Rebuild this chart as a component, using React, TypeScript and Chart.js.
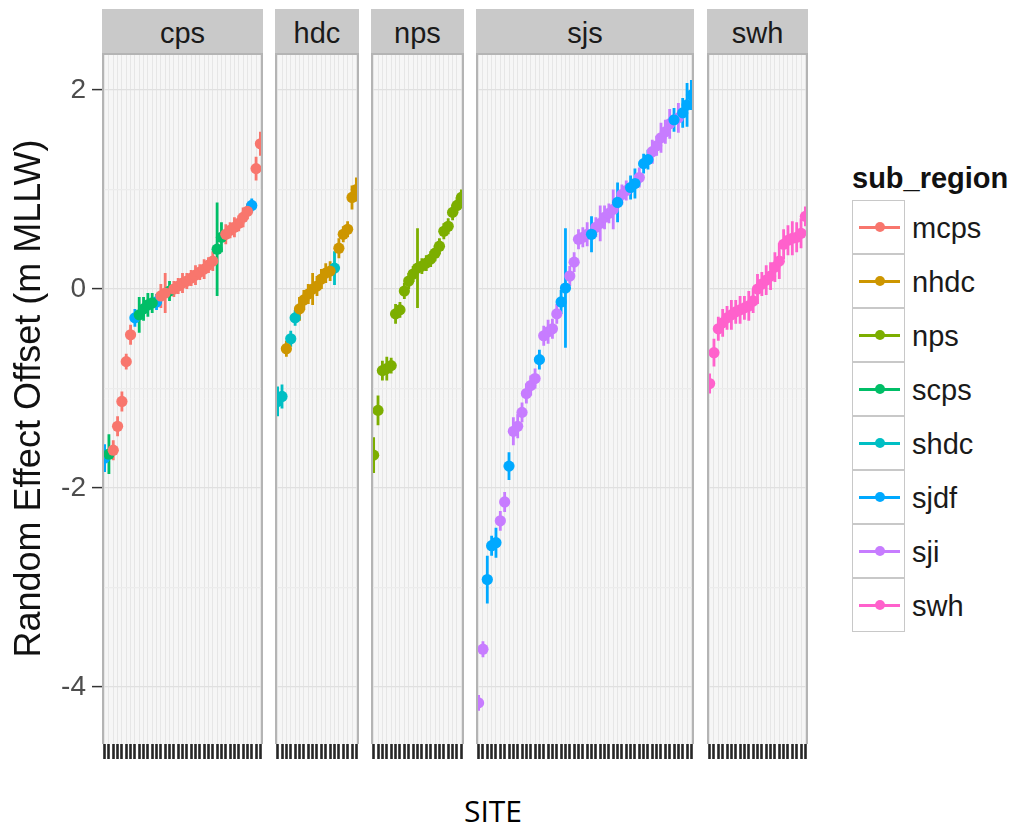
import React, { useEffect, useRef } from 'react';
import { Chart, registerables } from 'chart.js';
Chart.register(...registerables);

// ---------- data ----------
const subRegions = ['mcps', 'nhdc', 'nps', 'scps', 'shdc', 'sjdf', 'sji', 'swh'];
const regionColors = ['#F8766D', '#CD9600', '#7CAE00', '#00BE67', '#00BFC4', '#00A9FF', '#C77CFF', '#FF61CC'];
const panelNames = ['cps', 'hdc', 'nps', 'sjs', 'swh'];

const cpsValues = [-1.70, -1.66, -1.62, -1.38, -1.13, -0.73, -0.46, -0.29, -0.26, -0.20, -0.16, -0.14, -0.13, -0.07, -0.04, -0.02, 0.00, 0.03, 0.06, 0.08, 0.11, 0.14, 0.17, 0.20, 0.24, 0.28, 0.40, 0.52, 0.55, 0.59, 0.62, 0.66, 0.72, 0.78, 0.84, 1.21, 1.46];
const cpsErrors = [0.14, 0.2, 0.10, 0.10, 0.10, 0.08, 0.10, 0.09, 0.18, 0.12, 0.12, 0.10, 0.08, 0.12, 0.20, 0.10, 0.08, 0.08, 0.10, 0.08, 0.08, 0.10, 0.08, 0.10, 0.08, 0.10, 0.47, 0.15, 0.10, 0.08, 0.10, 0.08, 0.10, 0.08, 0.07, 0.12, 0.12];
const cpsRegions = ['sjdf', 'scps', 'mcps', 'mcps', 'mcps', 'mcps', 'mcps', 'sjdf', 'scps', 'scps', 'scps', 'scps', 'sjdf', 'mcps', 'mcps', 'scps', 'mcps', 'mcps', 'mcps', 'mcps', 'mcps', 'mcps', 'mcps', 'mcps', 'mcps', 'mcps', 'scps', 'scps', 'mcps', 'mcps', 'mcps', 'mcps', 'mcps', 'mcps', 'sjdf', 'mcps', 'mcps'];

const hdcValues = [-1.13, -1.08, -0.60, -0.50, -0.29, -0.20, -0.11, -0.05, 0.00, 0.03, 0.10, 0.16, 0.18, 0.21, 0.41, 0.55, 0.60, 0.92, 1.00];
const hdcErrors = [0.15, 0.12, 0.08, 0.08, 0.08, 0.12, 0.10, 0.10, 0.16, 0.10, 0.10, 0.10, 0.10, 0.17, 0.10, 0.08, 0.08, 0.12, 0.12];
const hdcRegions = ['shdc', 'shdc', 'nhdc', 'shdc', 'shdc', 'nhdc', 'nhdc', 'nhdc', 'nhdc', 'nhdc', 'nhdc', 'nhdc', 'nhdc', 'shdc', 'nhdc', 'nhdc', 'nhdc', 'nhdc', 'nhdc'];

const npsValues = [-1.67, -1.22, -0.82, -0.80, -0.77, -0.25, -0.21, -0.02, 0.08, 0.15, 0.21, 0.23, 0.26, 0.30, 0.36, 0.43, 0.58, 0.63, 0.77, 0.84, 0.92];
const npsErrors = [0.18, 0.15, 0.10, 0.12, 0.08, 0.10, 0.08, 0.08, 0.08, 0.08, 0.40, 0.08, 0.08, 0.08, 0.08, 0.08, 0.08, 0.08, 0.08, 0.08, 0.08];
const npsRegions = ['nps', 'nps', 'nps', 'nps', 'nps', 'nps', 'nps', 'nps', 'nps', 'nps', 'nps', 'nps', 'nps', 'nps', 'nps', 'nps', 'nps', 'nps', 'nps', 'nps', 'nps'];

const sjsValues = [-4.16, -3.62, -2.92, -2.58, -2.55, -2.33, -2.14, -1.78, -1.43, -1.38, -1.24, -1.05, -0.97, -0.90, -0.71, -0.47, -0.43, -0.40, -0.25, -0.13, 0.01, 0.13, 0.27, 0.50, 0.52, 0.55, 0.55, 0.62, 0.66, 0.72, 0.76, 0.80, 0.87, 0.95, 0.99, 1.02, 1.06, 1.12, 1.26, 1.30, 1.38, 1.44, 1.52, 1.58, 1.66, 1.70, 1.72, 1.77, 1.85, 1.95];
const sjsErrors = [0.08, 0.08, 0.24, 0.10, 0.15, 0.10, 0.10, 0.14, 0.14, 0.12, 0.10, 0.10, 0.10, 0.10, 0.10, 0.10, 0.12, 0.10, 0.10, 0.12, 0.60, 0.10, 0.10, 0.10, 0.10, 0.12, 0.18, 0.10, 0.18, 0.12, 0.10, 0.20, 0.20, 0.10, 0.10, 0.12, 0.15, 0.10, 0.10, 0.10, 0.12, 0.10, 0.15, 0.12, 0.15, 0.12, 0.15, 0.15, 0.22, 0.15];
const sjsRegions = ['sji', 'sji', 'sjdf', 'sjdf', 'sjdf', 'sji', 'sji', 'sjdf', 'sji', 'sji', 'sji', 'sji', 'sji', 'sji', 'sjdf', 'sji', 'sji', 'sji', 'sji', 'sjdf', 'sjdf', 'sji', 'sji', 'sji', 'sji', 'sji', 'sjdf', 'sji', 'sji', 'sji', 'sji', 'sji', 'sjdf', 'sji', 'sji', 'sjdf', 'sjdf', 'sji', 'sjdf', 'sjdf', 'sji', 'sji', 'sji', 'sji', 'sji', 'sjdf', 'sji', 'sjdf', 'sjdf', 'sjdf'];

const swhValues = [-0.95, -0.64, -0.40, -0.34, -0.29, -0.26, -0.23, -0.21, -0.19, -0.17, -0.12, 0.00, 0.05, 0.09, 0.13, 0.22, 0.28, 0.45, 0.49, 0.51, 0.52, 0.56, 0.73];
const swhErrors = [0.10, 0.14, 0.12, 0.14, 0.12, 0.15, 0.12, 0.14, 0.12, 0.15, 0.12, 0.15, 0.12, 0.15, 0.14, 0.15, 0.18, 0.15, 0.15, 0.17, 0.15, 0.15, 0.10];
const swhRegions = ['swh', 'swh', 'swh', 'swh', 'swh', 'swh', 'swh', 'swh', 'swh', 'swh', 'swh', 'swh', 'swh', 'swh', 'swh', 'swh', 'swh', 'swh', 'swh', 'swh', 'swh', 'swh', 'swh'];

const yTickValues = [-4, -3, -2, -1, 0, 1, 2];
const yMin = -4.573;
const yMax = 2.372;

const panelData = [
  { values: cpsValues, errors: cpsErrors, regions: cpsRegions },
  { values: hdcValues, errors: hdcErrors, regions: hdcRegions },
  { values: npsValues, errors: npsErrors, regions: npsRegions },
  { values: sjsValues, errors: sjsErrors, regions: sjsRegions },
  { values: swhValues, errors: swhErrors, regions: swhRegions },
];

// ---------- layout ----------
const FONT = '"Liberation Sans", Arial, Helvetica, sans-serif';
const panelBox = [
  { left: 102, right: 263 },
  { left: 275, right: 359 },
  { left: 371, right: 464 },
  { left: 476, right: 694 },
  { left: 707, right: 808 },
];
const PLOT_TOP = 53;
const PLOT_BOTTOM = 744;
const PAD_TOP = 30;
const PAD_BOTTOM = 10;
const X_AXIS_H = 16;
const PAD_X = 6;
const Y_AXIS_W = 102;

const panelPlugin = {
  id: 'panelBg',
  beforeDraw(chart: any) {
    const { ctx, chartArea: a } = chart;
    ctx.save();
    ctx.fillStyle = '#f6f6f6';
    ctx.fillRect(a.left, a.top, a.right - a.left, a.bottom - a.top);
    ctx.restore();
  },
  afterDatasetsDraw(chart: any) {
    const { ctx, chartArea: a } = chart;
    ctx.save();
    ctx.strokeStyle = '#b4b4b4';
    ctx.lineWidth = 2;
    ctx.beginPath();
    ctx.moveTo(a.left + 1, a.bottom);
    ctx.lineTo(a.left + 1, a.top + 1);
    ctx.lineTo(a.right - 1, a.top + 1);
    ctx.lineTo(a.right - 1, a.bottom);
    ctx.stroke();
    ctx.restore();
  },
};

function buildDatasets(values: number[], errors: number[], regions: string[]) {
  const ds: any[] = [];
  subRegions.forEach((r, ri) => {
    const idx = values.map((_, i) => i).filter((i) => regions[i] === r);
    if (!idx.length) return;
    const bars: any[] = [];
    idx.forEach((i) => {
      bars.push({ x: i, y: values[i] - errors[i] }, { x: i, y: values[i] + errors[i] }, { x: i, y: null });
    });
    ds.push({
      label: r + ' range',
      data: bars,
      showLine: true,
      borderColor: regionColors[ri],
      borderWidth: 2.8,
      pointRadius: 0,
      spanGaps: false,
      order: 2,
    });
    ds.push({
      label: r,
      data: idx.map((i) => ({ x: i, y: values[i] })),
      pointRadius: 5.6,
      pointHoverRadius: 5.6,
      backgroundColor: regionColors[ri],
      borderWidth: 0,
      order: 1,
    });
  });
  return ds;
}

function Panel({ index }: { index: number }) {
  const ref = useRef<HTMLCanvasElement | null>(null);
  const first = index === 0;
  const box = panelBox[index];
  const canvasLeft = first ? 0 : box.left - PAD_X;
  const width = first ? box.right + PAD_X : box.right - box.left + 2 * PAD_X;
  const height = PAD_TOP + (PLOT_BOTTOM - PLOT_TOP) + X_AXIS_H + PAD_BOTTOM;
  const top = PLOT_TOP - PAD_TOP;

  useEffect(() => {
    const { values, errors, regions } = panelData[index];
    const n = values.length;
    const chart = new Chart(ref.current as HTMLCanvasElement, {
      type: 'scatter',
      data: { datasets: buildDatasets(values, errors, regions) },
      plugins: [panelPlugin],
      options: {
        animation: false,
        responsive: false,
        events: [],
        layout: { padding: { left: first ? 0 : PAD_X, right: PAD_X, top: PAD_TOP, bottom: PAD_BOTTOM } },
        plugins: { legend: { display: false }, tooltip: { enabled: false }, title: { display: false } },
        scales: {
          x: {
            type: 'linear',
            min: -0.6,
            max: n - 0.4,
            afterBuildTicks: (scale: any) => {
              scale.ticks = values.map((_, i) => ({ value: i }));
            },
            afterFit: (scale: any) => {
              scale.height = X_AXIS_H;
            },
            ticks: { display: false, autoSkip: false },
            border: { display: false },
            grid: {
              color: '#e6e6e6',
              lineWidth: 1,
              drawTicks: true,
              tickLength: 15,
              tickColor: '#262626',
              tickWidth: 2.6,
            },
          },
          y: {
            type: 'linear',
            min: yMin,
            max: yMax,
            afterBuildTicks: (scale: any) => {
              scale.ticks = yTickValues.map((v) => ({ value: v }));
            },
            afterFit: (scale: any) => {
              scale.width = first ? Y_AXIS_W : 0;
            },
            border: { display: false },
            title: first
              ? {
                  display: true,
                  text: 'Random Effect Offset (m MLLW)',
                  color: '#111111',
                  font: { family: FONT, size: 36 },
                  padding: { top: 8, bottom: 0 },
                }
              : { display: false },
            ticks: {
              display: first,
              autoSkip: false,
              color: '#4d4d4d',
              padding: 6,
              font: { family: FONT, size: 28 },
              callback: (v: any) => (Number(v) % 2 === 0 ? String(v) : ''),
            },
            grid: {
              color: (c: any) => (c.tick && Math.abs(c.tick.value % 2) === 0 ? '#e0e0e0' : '#ececec'),
              lineWidth: 1.2,
              drawTicks: first,
              tickLength: 10,
              tickWidth: 1.5,
              tickColor: (c: any) => (c.tick && Math.abs(c.tick.value % 2) === 0 ? '#333333' : 'rgba(0,0,0,0)'),
            },
          },
        },
      } as any,
    });
    return () => chart.destroy();
  }, [index]);

  return (
    <canvas
      ref={ref}
      width={width}
      height={height}
      style={{ position: 'absolute', left: canvasLeft, top, width, height }}
    />
  );
}

function Strip({ index }: { index: number }) {
  const box = panelBox[index];
  return (
    <div
      style={{
        position: 'absolute',
        left: box.left,
        top: 9,
        width: box.right - box.left,
        height: PLOT_TOP - 9,
        background: '#c9c9c9',
      }}
    >
      <div
        style={{
          position: 'absolute',
          left: 0,
          right: 0,
          top: 9.5,
          textAlign: 'center',
          font: `29px ${FONT}`,
          lineHeight: '29px',
          color: '#1a1a1a',
        }}
      >
        {panelNames[index]}
      </div>
    </div>
  );
}

function Legend() {
  const rowTop = 200;
  const rowH = 54;
  return (
    <>
      <div
        style={{
          position: 'absolute',
          left: 852,
          top: 163.5,
          font: `bold 29px ${FONT}`,
          lineHeight: '29px',
          color: '#111111',
          whiteSpace: 'nowrap',
        }}
      >
        sub_region
      </div>
      {subRegions.map((r, k) => (
        <React.Fragment key={r}>
          <div
            style={{
              position: 'absolute',
              left: 852,
              top: rowTop + k * rowH,
              width: 53,
              height: rowH,
              boxSizing: 'border-box',
              border: '1px solid #c8c8c8',
              background: '#ffffff',
            }}
          >
            <div
              style={{
                position: 'absolute',
                left: 6,
                top: rowH / 2 - 2.5,
                width: 41,
                height: 3,
                background: regionColors[k],
              }}
            />
            <div
              style={{
                position: 'absolute',
                left: 26.5 - 5,
                top: rowH / 2 - 1 - 5,
                width: 10,
                height: 10,
                borderRadius: '50%',
                background: regionColors[k],
              }}
            />
          </div>
          <div
            style={{
              position: 'absolute',
              left: 912,
              top: rowTop + k * rowH + 13.5,
              font: `29px ${FONT}`,
              lineHeight: '29px',
              color: '#1a1a1a',
              whiteSpace: 'nowrap',
            }}
          >
            {r}
          </div>
        </React.Fragment>
      ))}
    </>
  );
}

export default function App() {
  return (
    <div
      style={{
        position: 'absolute',
        left: 0,
        top: 0,
        width: 1018,
        height: 829,
        background: '#ffffff',
        overflow: 'hidden',
      }}
    >
      {panelNames.map((_, i) => (
        <Strip key={'s' + i} index={i} />
      ))}
      {panelNames.map((_, i) => (
        <Panel key={'p' + i} index={i} />
      ))}
      <Legend />
      <div
        style={{
          position: 'absolute',
          left: 393,
          width: 200,
          top: 796.4,
          textAlign: 'center',
          font: `30px "Open Sans", sans-serif`,
          lineHeight: '30px',
          color: '#000000',
        }}
      >
        SITE
      </div>
    </div>
  );
}
